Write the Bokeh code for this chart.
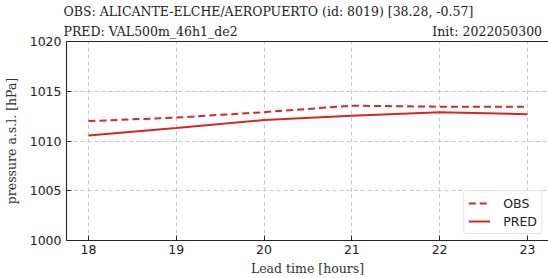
from bokeh.plotting import figure
from bokeh.models import Legend, LegendItem, FixedTicker, Range1d, Title, LinearAxis
from bokeh.embed import file_html
from bokeh.resources import INLINE

lead_time = [18, 19, 20, 21, 22, 23]
obs = [1012.0, 1012.35, 1012.9, 1013.55, 1013.45, 1013.45]
pred = [1010.55, 1011.3, 1012.1, 1012.55, 1012.9, 1012.7]
x_ticks = [18, 19, 20, 21, 22, 23]
y_ticks = [1000, 1005, 1010, 1015, 1020]
title1 = "OBS: ALICANTE-ELCHE/AEROPUERTO (id: 8019) [38.28, -0.57]"
title2 = "PRED: VAL500m_46h1_de2"
title3 = "Init: 2022050300"

RED = "#d62728"
SERIF = "DejaVu Serif"
SANS = "DejaVu Sans"
SPINE = "#262626"

p = figure(width=548, height=278, output_backend="svg", toolbar_location=None,
           x_range=Range1d(17.75, 23.24), y_range=Range1d(1000, 1020),
           min_border_left=66, min_border_right=0, min_border_top=41, min_border_bottom=38)
p.background_fill_color = "white"
p.border_fill_color = "white"
p.outline_line_color = None

l_obs = p.line(lead_time, obs, line_color=RED, line_width=2, line_dash="7 4")
l_pred = p.line(lead_time, pred, line_color=RED, line_width=2)

xb = p.below[0]
yl = p.left[0]

# top spine (no ticks, no labels)
top = LinearAxis(ticker=FixedTicker(ticks=[]), major_tick_in=0, major_tick_out=0,
                 minor_tick_in=0, minor_tick_out=0, major_label_standoff=0,
                 major_label_text_font_size="0px", axis_line_color=SPINE, axis_line_width=1.1)
p.add_layout(top, "above")

for ax in (xb, yl):
    ax.axis_line_color = SPINE
    ax.axis_line_width = 1.1
    ax.major_tick_in = 5
    ax.major_tick_out = 0
    ax.minor_tick_in = 0
    ax.minor_tick_out = 0
    ax.major_tick_line_color = SPINE
    ax.major_label_text_font = SANS
    ax.major_label_text_font_size = "12.5px"
    ax.major_label_text_color = "#222222"
    ax.axis_label_text_font = SERIF
    ax.axis_label_text_font_style = "normal"
    ax.axis_label_text_font_size = "12.5px"
    ax.axis_label_text_color = "#333333"

xb.ticker = FixedTicker(ticks=x_ticks)
yl.ticker = FixedTicker(ticks=y_ticks)
xb.axis_label = "Lead time [hours]"
yl.axis_label = "pressure a.s.l. [hPa]"
xb.major_label_standoff = 4
yl.major_label_standoff = 5
xb.axis_label_standoff = 4
yl.axis_label_standoff = 8

p.xgrid.ticker = FixedTicker(ticks=x_ticks)
p.ygrid.ticker = FixedTicker(ticks=y_ticks)
for g in (p.xgrid[0], p.ygrid[0]):
    g.grid_line_color = "#c8c8c8"
    g.grid_line_dash = "4 3"
    g.grid_line_width = 1

legend = Legend(items=[LegendItem(label="OBS", renderers=[l_obs]),
                       LegendItem(label="PRED", renderers=[l_pred])],
                location="bottom_right")
legend.label_text_font = SANS
legend.label_text_font_size = "12.5px"
legend.label_text_color = "#222222"
legend.border_line_color = "#cccccc"
legend.border_radius = 3
legend.background_fill_alpha = 0.9
legend.glyph_width = 22
legend.spacing = 2
legend.padding = 4
legend.margin = 6
legend.label_height = 16
legend.glyph_height = 16
legend.label_standoff = 13
p.add_layout(legend)

line2 = title2 + "\u00a0" * 49 + title3
t2 = Title(text=line2, align="left", text_font=SERIF, text_font_size="12.5px",
           text_font_style="normal", text_color="#222222", standoff=6, offset=-3)
t1 = Title(text=title1, align="left", text_font=SERIF, text_font_size="12.5px",
           text_font_style="normal", text_color="#222222", standoff=0, offset=-3)
p.add_layout(t2, "above")
p.add_layout(t1, "above")

open("out.html", "w").write(file_html(p, INLINE))
